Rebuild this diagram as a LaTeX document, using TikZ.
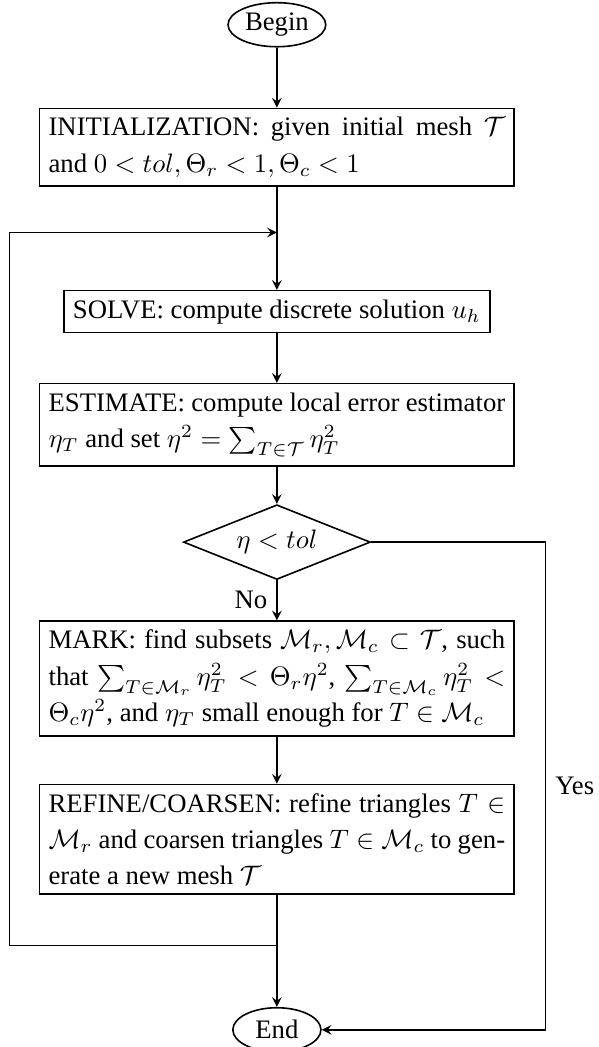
\documentclass[tikz,border=0pt]{standalone}
\usepackage{amsmath}
\usepackage[no-math]{fontspec}
\setmainfont{Liberation Serif}
\usetikzlibrary{shapes.geometric, arrows, positioning}

\begin{document}
\begin{tikzpicture}[
    box/.style={rectangle, draw, semithick},
    wbox/.style={box, text width=171pt, align=justify, font=\fontsize{10}{13.6}\selectfont},
    term/.style={ellipse, draw, semithick, inner sep=1pt, minimum width=33pt, minimum height=16.5pt},
    test/.style={diamond, draw, semithick, aspect=2.5, minimum width=69pt, minimum height=28pt, inner sep=2.5pt},
    arrow/.style={semithick,->,>=stealth}
]
\useasboundingbox (-103.7pt,9.25pt) rectangle (120.3pt,-382.85pt);

% Nodes
\node (begin) [term] {Begin};
\node (init) [wbox, below=22.5pt of begin] {INITIALIZATION: given initial mesh $\mathcal{T}$\linebreak and $0<tol,\Theta_r<1,\Theta_c<1$};
\node (solve) [box, below=38.5pt of init] {SOLVE: compute discrete solution $u_h$};
\node (estimate) [wbox, below=18.5pt of solve] {ESTIMATE: compute local error estimator\linebreak $\eta_T$ and set $\eta^2=\sum_{T\in\mathcal{T}}\eta_T^2$};
\node (test) [test, below=14pt of estimate] {$\eta<tol$};
\node (mark) [wbox, below=15pt of test] {MARK: find subsets $\mathcal{M}_r,\mathcal{M}_c\subset\mathcal{T}$, such\linebreak that $\sum_{T\in\mathcal{M}_r}\eta_T^2<\Theta_r\eta^2$, $\sum_{T\in\mathcal{M}_c}\eta_T^2<$\linebreak $\Theta_c\eta^2$, and $\eta_T$ small enough for $T\in\mathcal{M}_c$};
\node (refine) [wbox, below=17.5pt of mark] {REFINE/COARSEN: refine triangles $T\in$\linebreak $\mathcal{M}_r$ and coarsen triangles $T\in\mathcal{M}_c$ to gen-\linebreak erate a new mesh $\mathcal{T}$};
\node (end) [term, below=42pt of refine] {End};

% Loop points
\coordinate (top) at ([yshift=-17pt]init.south);
\coordinate (bottom) at ([yshift=-19pt]refine.south);
\coordinate (loop) at ([xshift=-11pt]refine.west |- bottom);
\coordinate (yes) at ([xshift=11.5pt]mark.east |- test);

% Flow
\draw [arrow] (begin) -- (init);
\draw [arrow] (init) -- (solve);
\draw [arrow] (solve) -- (estimate);
\draw [arrow] (estimate) -- (test);
\draw [arrow] (test) -- node[left] {No} (mark);
\draw [arrow] (mark) -- (refine);
\draw [arrow] (refine) -- (end);
\draw [arrow] (bottom) -- (loop) |- (top);
\draw [arrow] (test.east) -- (yes) |- node[pos=0.25, right] {Yes} (end.east);

\end{tikzpicture}
\end{document}
